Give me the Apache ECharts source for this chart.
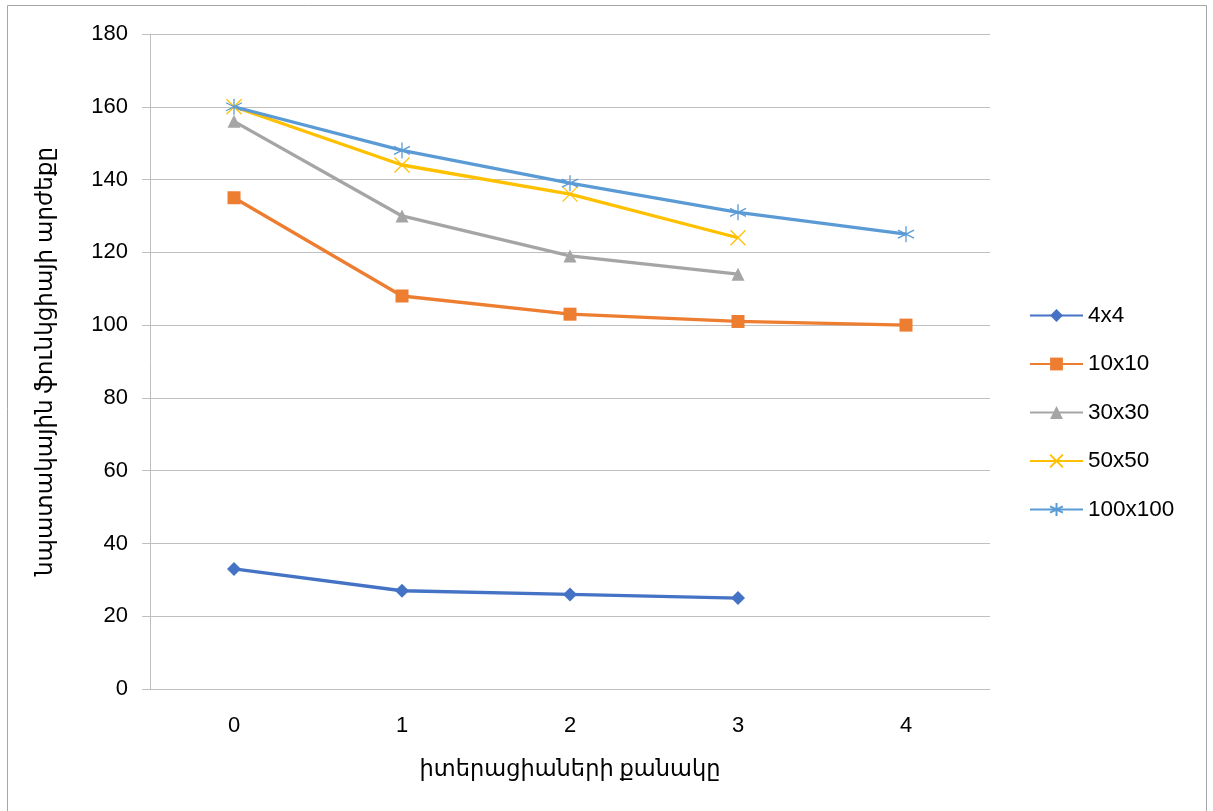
<!DOCTYPE html>
<html>
<head>
<meta charset="utf-8">
<script src="https://cdn.jsdelivr.net/npm/echarts@6/dist/echarts.min.js"></script>
<style>
html,body{margin:0;padding:0;background:#fff;}
#chart{width:1213px;height:811px;}
</style>
</head>
<body>
<div id="chart"></div>
<script>
const categories = ['0', '1', '2', '3', '4'];
const s4x4 = [33, 27, 26, 25, null];
const s10x10 = [135, 108, 103, 101, 100];
const s30x30 = [156, 130, 119, 114, null];
const s50x50 = [160, 144, 136, 124, null];
const s100x100 = [160, 148, 139, 131, 125];
const seriesNames = ['4x4', '10x10', '30x30', '50x50', '100x100'];
const xTitle = 'իտերացիաների քանակը';
const yTitle = 'նպատակային ֆունկցիայի արժեքը';

const FONT = '"Liberation Sans", "Noto Sans", "DejaVu Sans", sans-serif';
const ARM = '"Noto Sans", "DejaVu Sans", sans-serif';
const colors = ['#4472C4', '#ED7D31', '#A5A5A5', '#FFC000', '#5B9BD5'];
const symbols = [
  'diamond',
  'rect',
  'triangle',
  'path://M0,0L10,10M10,0L0,10',
  'path://M5,0L5,10M0.7,2.5L9.3,7.5M0.7,7.5L9.3,2.5'
];
const symbolSizes = [14, 13, 13, 15, 16];
const datas = [s4x4, s10x10, s30x30, s50x50, s100x100];

const chart = echarts.init(document.getElementById('chart'), null, {renderer: 'canvas'});
chart.setOption({
  animation: false,
  backgroundColor: '#fff',
  graphic: [{
    type: 'rect',
    shape: {x: 7.5, y: 5.5, width: 1199, height: 820},
    style: {fill: 'none', stroke: '#a6a6a6', lineWidth: 1},
    silent: true
  }],
  grid: {left: 150, top: 34, right: 223, bottom: 122, containLabel: false},
  xAxis: {
    type: 'category',
    data: categories,
    boundaryGap: true,
    axisLine: {show: true, lineStyle: {color: '#bfbfbf', width: 1}},
    axisTick: {show: false},
    axisLabel: {color: '#000', fontSize: 22, fontFamily: FONT, margin: 26},
    name: xTitle,
    nameLocation: 'middle',
    nameGap: 69,
    nameMoveOverlap: false,
    nameTextStyle: {color: '#000', fontSize: 22.5, fontFamily: ARM}
  },
  yAxis: {
    type: 'value',
    min: 0, max: 180, interval: 20,
    axisLine: {show: true, lineStyle: {color: '#bfbfbf', width: 1}},
    axisTick: {show: true, length: 8, lineStyle: {color: '#bfbfbf'}},
    splitLine: {show: true, lineStyle: {color: '#bfbfbf', width: 1}},
    axisLabel: {color: '#000', fontSize: 22, fontFamily: FONT, margin: 22},
    name: yTitle,
    nameLocation: 'middle',
    nameGap: 93,
    nameMoveOverlap: false,
    nameRotate: 90,
    nameTextStyle: {color: '#000', fontSize: 23, fontFamily: ARM}
  },
  legend: {
    orient: 'vertical',
    left: 1024,
    top: 299,
    itemWidth: 53,
    itemHeight: 16,
    itemGap: 25.5,
    textStyle: {color: '#000', fontSize: 22.5, fontFamily: FONT, padding: [0, 0, 0, 0]},
    data: seriesNames
  },
  series: seriesNames.map((n, i) => ({
    name: n,
    type: 'line',
    data: datas[i],
    color: colors[i],
    symbol: symbols[i],
    symbolSize: symbolSizes[i],
    showAllSymbol: true,
    connectNulls: false,
    lineStyle: {width: 3.3, color: colors[i]},
    itemStyle: i >= 3
      ? {color: colors[i], borderColor: colors[i], borderWidth: 1.3}
      : {color: colors[i]},
    emphasis: {disabled: true}
  }))
});
</script>
</body>
</html>
